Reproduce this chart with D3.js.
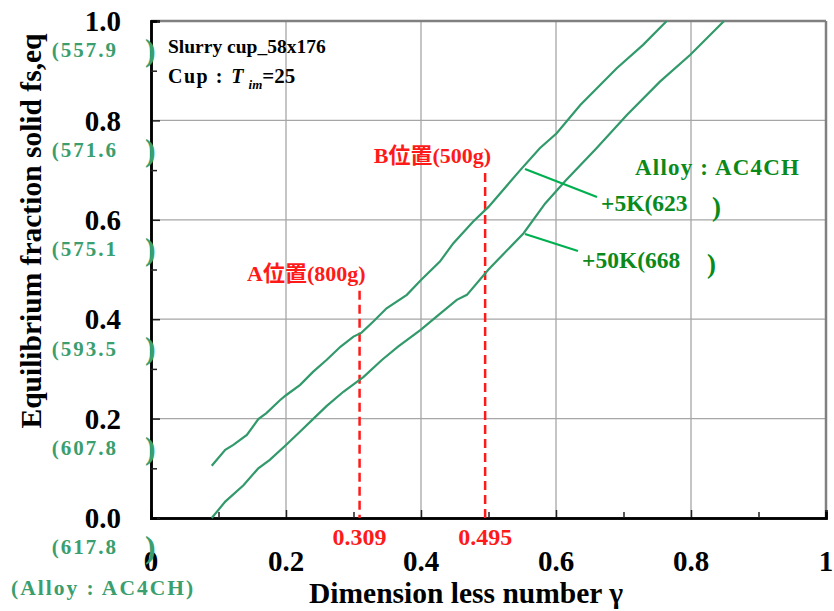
<!DOCTYPE html>
<html>
<head>
<meta charset="utf-8">
<script src="https://cdn.jsdelivr.net/npm/d3@7"></script>
<style>
  body { margin: 0; background: #fff; }
  text { font-family: "Liberation Serif", "Times New Roman", serif; font-weight: bold; }
  .cjk { font-family: "Liberation Serif", "Noto Sans CJK JP", serif; }
</style>
</head>
<body>
<div id="main"></div>
<script>
// +5K curve
const gamma5K = [0.090, 0.110, 0.122, 0.142, 0.159, 0.171, 0.191, 0.200, 0.221, 0.240, 0.260, 0.281, 0.300, 0.312, 0.329,
  0.349, 0.379, 0.400, 0.428, 0.448, 0.477, 0.500, 0.547, 0.576, 0.601, 0.636, 0.690, 0.729, 0.764];
const fs5K = [0.105, 0.137, 0.147, 0.167, 0.199, 0.211, 0.237, 0.247, 0.268, 0.294, 0.318, 0.345, 0.365, 0.373, 0.395,
  0.422, 0.449, 0.479, 0.516, 0.553, 0.596, 0.626, 0.700, 0.744, 0.774, 0.831, 0.905, 0.952, 1.000];

// +50K curve
const gamma50K = [0.090, 0.110, 0.137, 0.159, 0.176, 0.200, 0.221, 0.240, 0.260, 0.285, 0.315, 0.342, 0.366, 0.399,
  0.423, 0.453, 0.468, 0.500, 0.552, 0.584, 0.613, 0.660, 0.705, 0.754, 0.799, 0.849];
const fs50K = [0.000, 0.033, 0.066, 0.100, 0.117, 0.147, 0.174, 0.199, 0.225, 0.254, 0.284, 0.318, 0.345, 0.378,
  0.405, 0.439, 0.449, 0.500, 0.573, 0.633, 0.677, 0.744, 0.811, 0.878, 0.932, 1.000];

const xTicks = [0, 0.2, 0.4, 0.6, 0.8, 1.0];
const yTicks = [0, 0.2, 0.4, 0.6, 0.8, 1.0];
const minorTicks = [0.1, 0.3, 0.5, 0.7, 0.9];
const tempLabels = ['(617.8', '(607.8', '(593.5', '(575.1', '(571.6', '(557.9'];

// sampling positions
const posGamma = [0.309, 0.495];
const posTop = [0.457, 0.694];
const posNames = ['A位置(800g)', 'B位置(500g)'];

const margin = {top: 21, right: 8, bottom: 93, left: 151};
const W = 834, H = 611;
const width = W - margin.left - margin.right;
const height = H - margin.top - margin.bottom;

const curveColor = '#31996a';
const labelGreen = '#3a9e6e';
const darkGreen = '#0a8a1a';
const red = '#ff1a1a';

const svg = d3.select('#main').append('svg')
  .attr('width', W)
  .attr('height', H);

const g = svg.append('g')
  .attr('transform', 'translate(' + margin.left + ',' + margin.top + ')');

const x = d3.scaleLinear().domain([0, 1]).range([0, width]);
const y = d3.scaleLinear().domain([0, 1]).range([height, 0]);

// grid
g.selectAll('.vgrid').data(xTicks.slice(1))
  .enter().append('line')
  .attr('x1', d => x(d)).attr('x2', d => x(d))
  .attr('y1', 0).attr('y2', height)
  .attr('stroke', '#a6a6a6').attr('stroke-width', 1.3);
g.selectAll('.hgrid').data(yTicks.slice(1))
  .enter().append('line')
  .attr('x1', 0).attr('x2', width)
  .attr('y1', d => y(d)).attr('y2', d => y(d))
  .attr('stroke', '#a6a6a6').attr('stroke-width', 1.3);

// top / right frame
g.append('line').attr('x1', 0).attr('x2', width).attr('y1', 0).attr('y2', 0)
  .attr('stroke', '#808080').attr('stroke-width', 2.5);
g.append('line').attr('x1', width).attr('x2', width).attr('y1', 0).attr('y2', height)
  .attr('stroke', '#808080').attr('stroke-width', 2.5);

// axes (ticks inward)
const xAxis = g.append('g').attr('transform', 'translate(0,' + height + ')')
  .call(d3.axisBottom(x).tickValues(xTicks).tickSize(-8).tickFormat(''));
const xMinor = g.append('g').attr('transform', 'translate(0,' + height + ')')
  .call(d3.axisBottom(x).tickValues(minorTicks).tickSize(-6).tickFormat(''));
const yAxis = g.append('g')
  .call(d3.axisLeft(y).tickValues(yTicks).tickSize(-9).tickFormat(''));
const yMinor = g.append('g')
  .call(d3.axisLeft(y).tickValues(minorTicks).tickSize(-6).tickFormat(''));
[xAxis, xMinor, yAxis, yMinor].forEach(a => {
  a.selectAll('.domain').attr('stroke', '#000').attr('stroke-width', 2.5);
  a.selectAll('.tick line').attr('stroke', '#222').attr('stroke-width', 1.5);
});

// tick labels
g.selectAll('.ylab').data(yTicks)
  .enter().append('text')
  .attr('x', -30).attr('y', d => y(d))
  .attr('dy', '0.35em')
  .attr('text-anchor', 'end')
  .attr('font-size', 29)
  .text(d => d.toFixed(1));
g.selectAll('.xlab').data(xTicks)
  .enter().append('text')
  .attr('x', d => x(d)).attr('y', height + 43)
  .attr('dy', '0.35em')
  .attr('text-anchor', 'middle')
  .attr('font-size', 29)
  .text(d => (d === 0 || d === 1) ? d : d.toFixed(1));

// temperature labels at the left
g.selectAll('.tlab').data(yTicks)
  .enter().append('text')
  .attr('x', -33).attr('y', d => y(d) + 29)
  .attr('dy', '0.35em')
  .attr('text-anchor', 'end')
  .attr('font-size', 21)
  .attr('letter-spacing', 2)
  .attr('fill', labelGreen)
  .text((d, i) => tempLabels[i]);
g.selectAll('.tpar').data(yTicks)
  .enter().append('text')
  .attr('x', -6).attr('y', d => y(d) + 29)
  .attr('dy', '0.35em')
  .attr('font-size', 32)
  .attr('font-weight', 'normal')
  .attr('fill', labelGreen)
  .text(')');
svg.append('text')
  .attr('x', 11).attr('y', 587).attr('dy', '0.35em')
  .attr('font-size', 21.5).attr('letter-spacing', 2)
  .attr('fill', labelGreen)
  .text('(Alloy : AC4CH)');

// axis titles
svg.append('text')
  .attr('x', 466).attr('y', 593).attr('dy', '0.35em')
  .attr('text-anchor', 'middle')
  .attr('font-size', 29.5)
  .text('Dimension less number γ');
svg.append('text')
  .attr('transform', 'translate(31,231) rotate(-90)')
  .attr('dy', '0.35em')
  .attr('text-anchor', 'middle')
  .attr('font-size', 29.5)
  .text('Equilibrium fraction solid fs,eq');

// sampling position markers
g.selectAll('.pos').data(posGamma)
  .enter().append('line')
  .attr('x1', d => x(d)).attr('x2', d => x(d))
  .attr('y1', (d, i) => y(posTop[i])).attr('y2', height)
  .attr('stroke', red).attr('stroke-width', 2.5)
  .attr('stroke-dasharray', '9,5');
g.selectAll('.posval').data(posGamma)
  .enter().append('text')
  .attr('x', d => x(d)).attr('y', height + 19)
  .attr('dy', '0.35em')
  .attr('text-anchor', 'middle')
  .attr('font-size', 24)
  .attr('fill', red)
  .text(d => d.toFixed(3));
g.selectAll('.posname').data(posGamma)
  .enter().append('text')
  .attr('class', 'cjk')
  .attr('x', d => x(d) + 6).attr('y', (d, i) => y(posTop[i]) - 18)
  .attr('dy', '0.35em')
  .attr('text-anchor', 'end')
  .attr('font-size', 22)
  .attr('fill', red)
  .text((d, i) => posNames[i]);

// curves
const line = d3.line()
  .x(d => x(d[0]))
  .y(d => y(d[1]));
const series = [d3.zip(gamma5K, fs5K), d3.zip(gamma50K, fs50K)];
g.selectAll('.curve').data(series)
  .enter().append('path')
  .attr('d', line)
  .attr('fill', 'none')
  .attr('stroke', curveColor)
  .attr('stroke-width', 2.2);

// leaders and curve labels
svg.append('line').attr('x1', 525).attr('y1', 169).attr('x2', 597).attr('y2', 197)
  .attr('stroke', '#00b050').attr('stroke-width', 2.2);
svg.append('line').attr('x1', 525).attr('y1', 234).attr('x2', 578).attr('y2', 251)
  .attr('stroke', '#00b050').attr('stroke-width', 2.2);

svg.append('text').attr('x', 635).attr('y', 175)
  .attr('font-size', 23).attr('letter-spacing', 1.2).attr('fill', darkGreen)
  .text('Alloy : AC4CH');
svg.append('text').attr('x', 601).attr('y', 211)
  .attr('font-size', 23.5).attr('fill', darkGreen)
  .text('+5K(623');
svg.append('text').attr('x', 712).attr('y', 216)
  .attr('font-size', 27).attr('font-weight', 'normal').attr('fill', darkGreen)
  .text(')');
svg.append('text').attr('x', 582).attr('y', 268)
  .attr('font-size', 23.5).attr('fill', darkGreen)
  .text('+50K(668');
svg.append('text').attr('x', 707).attr('y', 273)
  .attr('font-size', 27).attr('font-weight', 'normal').attr('fill', darkGreen)
  .text(')');

// condition box text
svg.append('text').attr('x', 168).attr('y', 53)
  .attr('font-size', 19.5)
  .text('Slurry cup_58x176');
const cup = svg.append('text').attr('x', 168).attr('y', 83).attr('font-size', 20);
cup.append('tspan').attr('letter-spacing', 1.5).text('Cup : ');
cup.append('tspan').attr('font-style', 'italic').attr('dx', 1).text('T');
cup.append('tspan').attr('font-style', 'italic').attr('font-size', 13).attr('dx', 5).attr('dy', 6).text('im');
cup.append('tspan').attr('dy', -6).attr('font-size', 21).text('=25');
</script>
</body>
</html>
